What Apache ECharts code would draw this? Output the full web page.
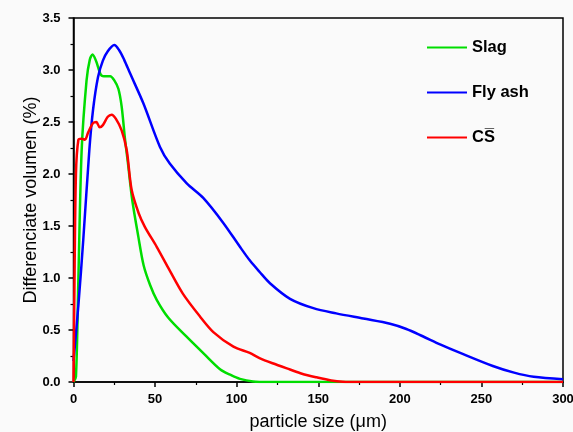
<!DOCTYPE html>
<html>
<head>
<meta charset="utf-8">
<script src="https://cdn.jsdelivr.net/npm/echarts@6/dist/echarts.min.js"></script>
<style>
html,body{margin:0;padding:0;background:#fafafa;}
#chart{width:573px;height:432px;}
</style>
</head>
<body>
<div id="chart"></div>
<script>
var seriesNames = ['Slag', 'Fly ash', 'CS\u0305'];
var seriesColors = ['#00dd00', '#0000ff', '#ff0000'];

var slagX = [0, 1.5, 3, 5, 8, 10, 11.7, 14, 17, 20, 22.5, 25, 27.5, 29.5, 31.6, 33.4, 36, 39.7, 43, 47, 51, 58, 69, 80, 90, 96, 102, 110, 120, 150, 200, 250, 300];
var slagY = [0, 0.05, 1.0, 2.23, 2.9, 3.1, 3.15, 3.08, 2.95, 2.94, 2.94, 2.9, 2.82, 2.65, 2.33, 2.1, 1.75, 1.40, 1.12, 0.93, 0.79, 0.62, 0.44, 0.27, 0.12, 0.07, 0.03, 0.005, 0, 0, 0, 0, 0];

var flyX = [0, 3, 6, 9.7, 12, 15, 18, 21, 25, 28, 31, 34.6, 42.8, 53, 59, 69.4, 79.5, 91.8, 102, 108, 114, 120.4, 132.7, 147, 161, 177.6, 194, 204, 214, 225, 237, 257, 270, 282, 300];
var flyY = [0.2, 0.74, 1.37, 2.23, 2.62, 2.93, 3.09, 3.18, 3.24, 3.19, 3.1, 2.97, 2.68, 2.26, 2.10, 1.91, 1.77, 1.53, 1.30, 1.17, 1.06, 0.95, 0.80, 0.71, 0.66, 0.61, 0.56, 0.51, 0.44, 0.36, 0.28, 0.154, 0.09, 0.05, 0.026];

var csX = [0, 0.5, 1.5, 3, 5, 7, 9, 12, 14, 16, 18, 21, 23.4, 26, 29.5, 32.6, 35.6, 40, 43.8, 51, 58, 67, 77.5, 85.7, 98, 108, 114, 122, 132.7, 140, 149, 158, 165, 175, 200, 250, 300];
var csY = [0, 0.8, 2.0, 2.33, 2.34, 2.33, 2.4, 2.49, 2.5, 2.45, 2.47, 2.55, 2.57, 2.53, 2.42, 2.23, 1.85, 1.62, 1.49, 1.30, 1.1, 0.85, 0.63, 0.48, 0.34, 0.28, 0.23, 0.18, 0.12, 0.08, 0.045, 0.015, 0.003, 0, 0, 0, 0];

function pairs(xs, ys) { return xs.map(function (x, i) { return [x, ys[i]]; }); }
var allData = [pairs(slagX, slagY), pairs(flyX, flyY), pairs(csX, csY)];

var chart = echarts.init(document.getElementById('chart'), null, {renderer: 'canvas'});
var labelFont = {fontFamily: 'Arial, Liberation Sans', fontWeight: 'bold', fontSize: 13, color: '#000'};
var option = {
  backgroundColor: '#fafafa',
  animation: false,
  grid: {left: 73.5, right: 10, top: 18, bottom: 50, show: true, borderColor: '#000', borderWidth: 1.5, backgroundColor: 'transparent', outerBoundsMode: 'none', containLabel: false},
  legend: {
    orient: 'vertical', left: 427, top: 39, padding: 0, itemWidth: 40, itemHeight: 14, itemGap: 28,
    icon: 'path://M0,6 L40,6 L40,8 L0,8 Z',
    data: seriesNames,
    textStyle: {fontFamily: 'Arial, Liberation Sans', fontWeight: 'bold', fontSize: 16.5, color: '#000'}
  },
  xAxis: {
    type: 'value', min: 0, max: 300, interval: 50,
    name: 'particle size (\u03bcm)', nameLocation: 'middle', nameGap: 31, nameMoveOverlap: false,
    nameTextStyle: {fontFamily: 'Arial, Liberation Sans', fontSize: 18, color: '#000'},
    axisLine: {show: true, lineStyle: {color: '#000', width: 1.5}},
    axisTick: {show: true, inside: false, length: 5, lineStyle: {color: '#000', width: 1.5}},
    minorTick: {show: true, splitNumber: 2, length: 3, lineStyle: {color: '#000', width: 1.2}},
    axisLabel: Object.assign({margin: 11}, labelFont),
    splitLine: {show: false}
  },
  yAxis: {
    type: 'value', min: 0, max: 3.5, interval: 0.5,
    name: 'Differenciate volumen (%)', nameLocation: 'middle', nameGap: 33, nameMoveOverlap: false,
    nameTextStyle: {fontFamily: 'Arial, Liberation Sans', fontSize: 18, color: '#000'},
    axisLine: {show: true, lineStyle: {color: '#000', width: 1.5}},
    axisTick: {show: true, inside: false, length: 5, lineStyle: {color: '#000', width: 1.5}},
    minorTick: {show: true, splitNumber: 2, length: 3, lineStyle: {color: '#000', width: 1.2}},
    axisLabel: Object.assign({margin: 13, formatter: function (v) { return v.toFixed(1); }}, labelFont),
    splitLine: {show: false}
  },
  series: seriesNames.map(function (n, i) {
    return {
      name: n, type: 'line', data: allData[i], smooth: 0.3, showSymbol: false,
      lineStyle: {color: seriesColors[i], width: 2.5}, itemStyle: {color: seriesColors[i]}
    };
  })
};
chart.setOption(option);
</script>
</body>
</html>
